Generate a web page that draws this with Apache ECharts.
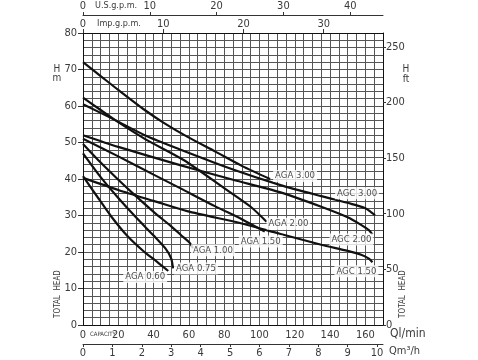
<!DOCTYPE html>
<html><head><meta charset="utf-8">
<script src="https://cdn.jsdelivr.net/npm/echarts@6/dist/echarts.min.js"></script>
<style>html,body{margin:0;padding:0;background:#fff}#c{width:478px;height:360px}</style>
</head><body><div id="c"></div>
<script>
// ---- data (Q in l/min, H in m) ----
const q_AGA300 = [0, 10, 20, 35, 46, 59, 75, 90, 106];
const h_AGA300 = [72, 68.2, 64.4, 58.9, 55.3, 51.6, 47.5, 43.6, 40];
const q_AGA200 = [0, 10, 18, 35, 57, 80, 95, 104];
const h_AGA200 = [62.3, 58.9, 56.2, 51, 45.2, 37.5, 32.4, 28.3];
const q_AGA150 = [0, 20, 40, 55, 75, 90, 103];
const h_AGA150 = [51, 46.2, 41.2, 37.5, 32.5, 29, 25.6];
const q_AGA100 = [0, 10, 20, 30, 40, 50, 57, 60.5, 62.3];
const h_AGA100 = [49.6, 44.5, 39.8, 35.3, 31, 27, 24, 22.5, 21];
const q_AGA075 = [0, 10, 20, 30, 40, 47, 50, 51];
const h_AGA075 = [47, 40.5, 34.8, 29.5, 24.5, 20.8, 18.2, 15.5];
const q_AGA060 = [0, 8.3, 15.9, 25.3, 34.8, 42, 48.3];
const h_AGA060 = [40.8, 35, 29.8, 24.3, 20, 17.3, 14.8];
const q_AGC300 = [0, 18, 35, 55, 85, 111.5, 135, 152, 160, 163, 165.5];
const h_AGC300 = [60.5, 56.2, 52, 48.1, 42.6, 38.4, 35.3, 33.2, 32, 31, 30.1];
const q_AGC200 = [0, 20, 55, 85, 111.5, 135, 150, 158, 162, 164];
const h_AGC200 = [52, 48.8, 43.8, 39.8, 36.4, 32.4, 29.5, 27.3, 26, 24.8];
const q_AGC150 = [0, 20, 40, 59, 90, 111.5, 135, 150, 158, 162, 164];
const h_AGC150 = [40.3, 37, 34, 31.2, 27.8, 25, 22, 20.3, 19.2, 18.2, 17.2];

const curveNames = ['AGA 3.00','AGA 2.00','AGA 1.50','AGA 1.00','AGA 0.75','AGA 0.60','AGC 3.00','AGC 2.00','AGC 1.50'];
const curveQ = [q_AGA300,q_AGA200,q_AGA150,q_AGA100,q_AGA075,q_AGA060,q_AGC300,q_AGC200,q_AGC150];
const curveH = [h_AGA300,h_AGA200,h_AGA150,h_AGA100,h_AGA075,h_AGA060,h_AGC300,h_AGC200,h_AGC150];

const qlminLabels = [0, 20, 40, 60, 80, 100, 120, 140, 160];
const qm3hLabels = [0, 1, 2, 3, 4, 5, 6, 7, 8, 9, 10];
const usgpmLabels = [0, 10, 20, 30, 40];
const impgpmLabels = [0, 10, 20, 30];
const headMLabels = [0, 10, 20, 30, 40, 50, 60, 70, 80];
const headFtLabels = [0, 50, 100, 150, 200, 250];

// ---- presentation ----
const Q_MAX = 170, H_MAX = 80;
const FONT = '"Liberation Sans Narrow","DejaVu Sans Condensed","Liberation Sans",sans-serif';
const TXT = '#3a3a3a';
const GRIDC = '#555';
// label offsets (px) from curve end, per curve
const labelOffset = {
  'AGA 3.00':[25,-3],'AGA 2.00':[22,2],'AGA 1.50':[-4,10],'AGA 1.00':[20,2],
  'AGA 0.75':[23,0],'AGA 0.60':[-23,6],'AGC 3.00':[-18,-22],'AGC 2.00':[-21,5],'AGC 1.50':[-16,9]
};

const chart = echarts.init(document.getElementById('c'), null, {renderer:'canvas'});

const lineSeries = curveNames.map((n,i)=>({
  type:'line', name:n, xAxisIndex:0, yAxisIndex:0,
  data: curveQ[i].map((q,j)=>[q, curveH[i][j]]),
  smooth:0.25, showSymbol:false, symbol:'none',
  lineStyle:{color:'#111', width:2.2}, z:5, silent:true
}));

const labelSeries = {
  type:'scatter', xAxisIndex:0, yAxisIndex:0, symbolSize:1, z:10, silent:true,
  itemStyle:{color:'rgba(0,0,0,0)'},
  data: curveNames.map((n,i)=>{
    const q = curveQ[i], h = curveH[i];
    return {name:n, value:[q[q.length-1], h[h.length-1]],
      label:{show:true, position:'inside', offset:labelOffset[n], formatter:'{b}',
        fontFamily:FONT, fontSize:9.5, color:'#222', backgroundColor:'#fff', padding:[1,2]}};
  })
};

const lbl = (extra)=>Object.assign({fontFamily:FONT, fontSize:11, color:TXT}, extra);

chart.setOption({
  animation:false,
  backgroundColor:'#fff',
  grid:{left:83, right:95, top:33, bottom:35, containLabel:false, outerBoundsMode:'none'},
  xAxis:[
    {type:'value', min:0, max:Q_MAX, interval:5, position:'bottom',
     axisLine:{show:true, onZero:false, lineStyle:{color:'#111', width:1}}, axisTick:{show:false}, axisLabel:{show:false},
     splitLine:{show:true, lineStyle:{color:GRIDC, width:1}}},
    {type:'value', min:0, max:Q_MAX, interval:20, position:'bottom',
     axisLine:{show:false, onZero:false}, axisTick:{show:false}, splitLine:{show:false},
     axisLabel:lbl({margin:5, formatter:v=>qlminLabels.includes(v)?String(v):''})},
    {type:'value', min:0, max:Q_MAX/16.6667, position:'bottom', offset:19,
     axisLine:{show:true, onZero:false, lineStyle:{color:'#333', width:1}},
     axisTick:{show:true, length:3, inside:false, customValues:qm3hLabels, lineStyle:{color:'#333'}},
     axisLabel:lbl({margin:4, customValues:qm3hLabels}), splitLine:{show:false}},
    {type:'value', min:0, max:Q_MAX/3.78541, position:'top', offset:18,
     axisLine:{show:true, onZero:false, lineStyle:{color:'#333', width:1}},
     axisTick:{show:true, length:3, customValues:usgpmLabels, lineStyle:{color:'#333'}},
     axisLabel:lbl({margin:3, customValues:usgpmLabels}), splitLine:{show:false}},
    {type:'value', min:0, max:Q_MAX/4.54609, position:'top', offset:0,
     axisLine:{show:true, onZero:false, lineStyle:{color:'#111', width:1}},
     axisTick:{show:true, length:4, customValues:impgpmLabels, lineStyle:{color:'#333'}},
     axisLabel:lbl({margin:3, customValues:impgpmLabels}), splitLine:{show:false}}
  ],
  yAxis:[
    {type:'value', min:0, max:H_MAX, interval:2, position:'left',
     axisLine:{show:true, onZero:false, lineStyle:{color:'#111', width:1}}, axisTick:{show:false}, axisLabel:{show:false},
     splitLine:{show:true, lineStyle:{color:GRIDC, width:1}}},
    {type:'value', min:0, max:H_MAX, interval:10, position:'left',
     axisLine:{show:false, onZero:false}, axisTick:{show:true, length:5, lineStyle:{color:'#333'}},
     axisLabel:lbl({margin:6, formatter:v=>headMLabels.includes(v)?String(v):''}), splitLine:{show:false}},
    {type:'value', min:0, max:H_MAX*3.28084, position:'right',
     axisLine:{show:true, onZero:false, lineStyle:{color:'#111', width:1}},
     axisTick:{show:true, length:3, customValues:headFtLabels, lineStyle:{color:'#333'}},
     axisLabel:lbl({margin:3, customValues:headFtLabels}), splitLine:{show:false}}
  ],
  series: lineSeries.concat([labelSeries]),
  graphic:[
    {type:'text', left:95, top:1, style:{text:'U.S.g.p.m.', font:'9px '+FONT, fill:TXT}},
    {type:'text', left:97, top:19, style:{text:'Imp.g.p.m.', font:'9px '+FONT, fill:TXT}},
    {type:'text', left:90, top:331, style:{text:'CAPACITY', font:'6px '+FONT, fill:TXT}},
    {type:'text', left:390, top:328, style:{text:'Ql/min', font:'12px '+FONT, fill:TXT}},
    {type:'text', left:389, top:346, style:{text:'Qm³/h', font:'11px '+FONT, fill:TXT}},
    {type:'text', x:57, y:69, style:{text:'H', font:'10px '+FONT, fill:TXT, align:'center', verticalAlign:'middle'}},
    {type:'text', x:57, y:78, style:{text:'m', font:'10px '+FONT, fill:TXT, align:'center', verticalAlign:'middle'}},
    {type:'text', x:406, y:69, style:{text:'H', font:'10px '+FONT, fill:TXT, align:'center', verticalAlign:'middle'}},
    {type:'text', x:406, y:79, style:{text:'ft', font:'10px '+FONT, fill:TXT, align:'center', verticalAlign:'middle'}},
    {type:'text', x:58, y:294, rotation:Math.PI/2, style:{text:'TOTAL  HEAD', font:'8px '+FONT, fill:TXT, align:'center', verticalAlign:'middle'}},
    {type:'text', x:403, y:294, rotation:Math.PI/2, style:{text:'TOTAL  HEAD', font:'8px '+FONT, fill:TXT, align:'center', verticalAlign:'middle'}}
  ]
});
</script></body></html>
